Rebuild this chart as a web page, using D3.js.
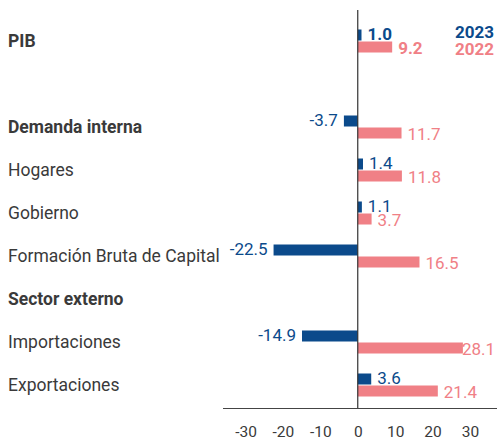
<!DOCTYPE html>
<html><head><meta charset="utf-8">
<script src="https://cdn.jsdelivr.net/npm/d3@7"></script>
<style>body{margin:0;background:#fff}svg{display:block}</style>
</head><body>
<svg id="c" width="497" height="441"></svg>
<script>
const categories = ["PIB", "", "Demanda interna", "Hogares", "Gobierno", "Formación Bruta de Capital", "Sector externo", "Importaciones", "Exportaciones"];
const boldCats = ["PIB", "Demanda interna", "Sector externo"];
const values2023 = [1.0, null, -3.7, 1.4, 1.1, -22.5, null, -14.9, 3.6];
const values2022 = [9.2, null, 11.7, 11.8, 3.7, 16.5, null, 28.1, 21.4];
const seriesNames = ["2023", "2022"];
const tickValues = [-30, -20, -10, 0, 10, 20, 30];

const W = 497, H = 441;
const blue = "#0b4a8b", pink = "#f08086", textC = "#3a3a3a";
const svg = d3.select("#c");
const font = "Roboto, 'Noto Sans', sans-serif";

const x = d3.scaleLinear().domain([-30, 30]).range([245.5, 470]);
const y = d3.scaleBand().domain(d3.range(categories.length)).range([19.5, 406.5]).padding(0);
const bh = 11;

// category labels
svg.append("g").selectAll("text").data(categories).join("text")
  .attr("x", 8).attr("y", (d, i) => y(i) + y.bandwidth() / 2)
  .attr("dy", "0.35em")
  .attr("font-family", font).attr("font-size", 17.5)
  .attr("font-weight", d => boldCats.includes(d) ? 700 : 400)
  .attr("fill", textC).text(d => d);

const rows = categories.map((c, i) => ({i, v23: values2023[i], v22: values2022[i], bold: i === 0}));

// bars
const cy = i => y(i) + y.bandwidth() / 2;
svg.append("g").selectAll("rect").data(rows.filter(r => r.v23 != null)).join("rect")
  .attr("x", d => x(Math.min(0, d.v23))).attr("width", d => Math.abs(x(d.v23) - x(0)))
  .attr("y", d => cy(d.i) - bh - 0.5).attr("height", bh).attr("fill", blue);
svg.append("g").selectAll("rect").data(rows.filter(r => r.v22 != null)).join("rect")
  .attr("x", d => x(Math.min(0, d.v22))).attr("width", d => Math.abs(x(d.v22) - x(0)))
  .attr("y", d => cy(d.i) + 0.5).attr("height", bh).attr("fill", pink);

// value labels 2023
svg.append("g").selectAll("text").data(rows.filter(r => r.v23 != null)).join("text")
  .attr("x", d => d.v23 < 0 ? x(d.v23) - 6 : x(d.v23) + 6)
  .attr("text-anchor", d => d.v23 < 0 ? "end" : "start")
  .attr("y", d => cy(d.i) - 7).attr("dy", "0.35em")
  .attr("font-family", font).attr("font-size", 17)
  .attr("font-weight", d => d.bold ? 700 : 400)
  .attr("fill", blue).text(d => d.v23.toFixed(1));
// value labels 2022
svg.append("g").selectAll("text").data(rows.filter(r => r.v22 != null)).join("text")
  .attr("x", d => Math.min(x(d.v22) + 6, 462))
  .attr("y", d => cy(d.i) + 7.5).attr("dy", "0.35em")
  .attr("font-family", font).attr("font-size", 17)
  .attr("font-weight", d => d.bold ? 700 : 400)
  .attr("fill", pink).text(d => d.v22.toFixed(1));

// zero line
svg.append("line").attr("x1", x(0)).attr("x2", x(0)).attr("y1", 10).attr("y2", 408)
  .attr("stroke", "#333").attr("stroke-width", 1.2);

// x axis
const axis = d3.axisBottom(x).tickValues(tickValues).tickSize(0).tickPadding(17).tickFormat(d => String(d));
const ag = svg.append("g").attr("transform", "translate(0,408.5)").call(axis);
ag.select(".domain").remove();
ag.append("line").attr("x1", 223).attr("x2", 497).attr("stroke", "#444").attr("stroke-width", 1.2);
ag.selectAll("text").attr("font-family", font).attr("font-size", 15.5).attr("fill", textC);

// legend
const lg = svg.append("g");
lg.selectAll("text").data(seriesNames).join("text")
  .attr("x", 494).attr("y", (d, i) => 32 + i * 17).attr("dy", "0.35em")
  .attr("text-anchor", "end").attr("font-family", font).attr("font-size", 17)
  .attr("font-weight", 700).attr("fill", (d, i) => i === 0 ? blue : pink).text(d => d);
</script>
</body></html>
